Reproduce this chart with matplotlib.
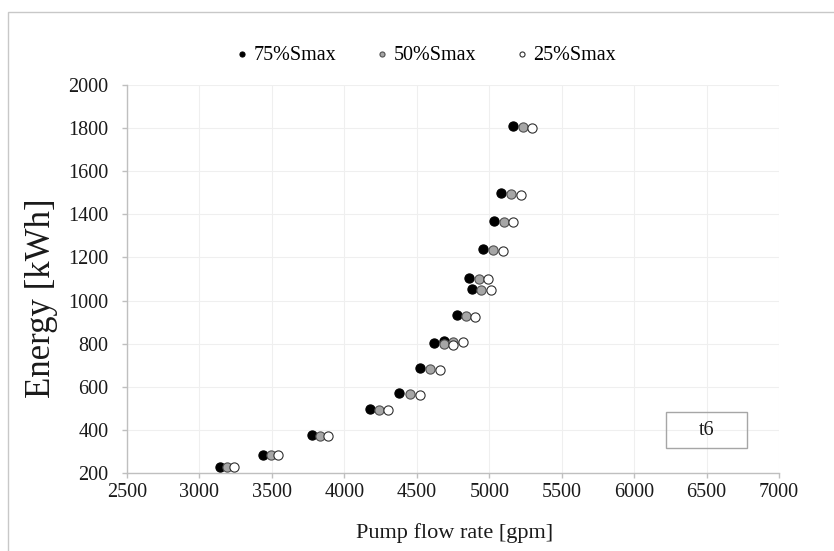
import matplotlib.pyplot as plt
from matplotlib.patches import Rectangle

# Данные
series_names = ['75%Smax', '50%Smax', '25%Smax']

flow_75 = [3141, 3438, 3780, 4176, 4380, 4525, 4617, 4686, 4774, 4859, 4879, 4957, 5031, 5084, 5164]
energy_75 = [230, 284, 374, 497, 570, 686, 801, 813, 932, 1106, 1055, 1239, 1371, 1498, 1810]

flow_50 = [3190, 3493, 3833, 4238, 4450, 4594, 4686, 4752, 4840, 4928, 4946, 5026, 5100, 5153, 5233]
energy_50 = [229, 283, 372, 494, 566, 682, 797, 809, 928, 1102, 1050, 1235, 1366, 1493, 1804]

flow_25 = [3240, 3543, 3889, 4298, 4521, 4663, 4748, 4819, 4905, 4994, 5010, 5095, 5167, 5219, 5298]
energy_25 = [228, 282, 370, 492, 563, 679, 795, 806, 925, 1099, 1047, 1232, 1363, 1490, 1801]

x_ticks = [2500, 3000, 3500, 4000, 4500, 5000, 5500, 6000, 6500, 7000]
y_ticks = [200, 400, 600, 800, 1000, 1200, 1400, 1600, 1800, 2000]

plt.rcParams['font.family'] = ['Liberation Serif', 'DejaVu Serif']


def draw_graph():
    fig = plt.figure(figsize=(8.34, 5.51), dpi=100)
    ax = fig.add_axes([0.1523, 0.1416, 0.7818, 0.7041])

    # внешняя рамка
    fig.patches.append(Rectangle((0.010, -0.1), 1.2, 1.1 - 0.022, transform=fig.transFigure,
                                 fill=False, edgecolor='#c8c8c8', linewidth=1.0))

    ms = 44
    ax.scatter(flow_75, energy_75, s=ms, c='black', edgecolors='black', linewidths=0.8,
               label=series_names[0], zorder=3)
    ax.scatter(flow_50, energy_50, s=ms, c='#a6a6a6', edgecolors='#505050', linewidths=0.8,
               label=series_names[1], zorder=3)
    ax.scatter(flow_25, energy_25, s=ms, c='white', edgecolors='#303030', linewidths=0.8,
               label=series_names[2], zorder=3)

    ax.set_xlim(2500, 7000)
    ax.set_ylim(200, 2000)
    ax.set_xticks(x_ticks)
    ax.set_yticks(y_ticks)
    ax.grid(color='#efefef', linewidth=0.8, zorder=0)
    ax.set_axisbelow(True)

    for side in ['top', 'right']:
        ax.spines[side].set_visible(False)
    for side in ['left', 'bottom']:
        ax.spines[side].set_color('#bfbfbf')
        ax.spines[side].set_linewidth(1.0)

    ax.tick_params(axis='both', direction='out', length=3.5, width=1.0, color='#bfbfbf',
                   labelsize=14.5, labelcolor='#1a1a1a')
    ax.tick_params(axis='y', pad=10)
    ax.tick_params(axis='x', pad=4)

    ax.set_xlabel('Pump flow rate [gpm]', fontsize=16, color='#1a1a1a')
    ax.xaxis.set_label_coords(0.502, -0.130)
    ax.set_ylabel('Energy [kWh]', fontsize=25, color='#1a1a1a')
    ax.yaxis.set_label_coords(-0.106, 0.45)

    fig.legend(loc='center', bbox_to_anchor=(0.511, 0.900), ncol=3, frameon=False,
               fontsize=14.5, markerscale=0.55, handlelength=0.6, handletextpad=0.25,
               columnspacing=2.0)

    # подпись t6
    ax.add_patch(Rectangle((0.8267, 0.0644), 0.1243, 0.0926, transform=ax.transAxes,
                           fill=False, edgecolor='#a6a6a6', linewidth=1.0, zorder=4))
    ax.text(0.889, 0.110, 't6', transform=ax.transAxes, ha='center', va='center',
            fontsize=14.5, color='#1a1a1a', zorder=5)

    fig.savefig('out.png', dpi=100)


def main():
    draw_graph()


if __name__ == '__main__':
    main()
